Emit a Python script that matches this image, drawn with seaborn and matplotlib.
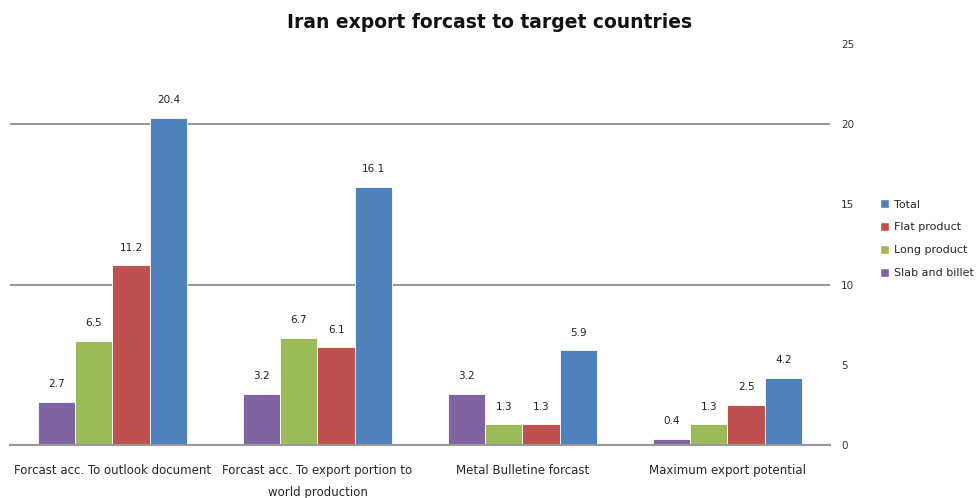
import matplotlib
matplotlib.use("Agg")
import matplotlib.pyplot as plt
import seaborn as sns
import pandas as pd
from matplotlib.patches import Patch

categories = ["Forcast acc. To outlook document",
              "Forcast acc. To export portion to\nworld production",
              "Metal Bulletine forcast",
              "Maximum export potential"]
series = ["Slab and billet", "Long product", "Flat product", "Total"]
slab = [2.7, 3.2, 3.2, 0.4]
long_p = [6.5, 6.7, 1.3, 1.3]
flat = [11.2, 6.1, 1.3, 2.5]
total = [20.4, 16.1, 5.9, 4.2]
yticks = [0, 5, 10, 15, 20, 25]

colors = {"Slab and billet": "#8064A2", "Long product": "#9BBB59",
          "Flat product": "#C0504D", "Total": "#4F81BD"}

rows = []
for s, vals in zip(series, [slab, long_p, flat, total]):
    for c, v in zip(categories, vals):
        rows.append({"cat": c, "series": s, "value": v})
df = pd.DataFrame(rows)

sns.set_style("white")
plt.rcParams['font.family'] = ['DejaVu Sans']
fig = plt.figure(figsize=(9.79, 4.98), dpi=100)
ax = fig.add_axes([10/979, (498-445)/498, 820/979, 401/498])

sns.barplot(data=df, x="cat", y="value", hue="series", hue_order=series,
            order=categories, palette=colors, width=0.73, ax=ax,
            edgecolor="#ffffff", linewidth=0.6, legend=False, saturation=1)

for cont in ax.containers:
    ax.bar_label(cont, fmt="%.1f", padding=9, fontsize=7.5, color="#222222")

ax.set_ylim(0, 25)
ax.set_xlim(-0.5, 3.5)
ax.yaxis.tick_right()
ax.set_yticks(yticks)
ax.set_yticklabels([str(t) for t in yticks], fontsize=7.5, color="#333333")
ax.tick_params(axis='y', length=0, pad=8)
ax.tick_params(axis='x', length=0, pad=14, labelsize=8.5)
for lab in ax.get_xticklabels():
    lab.set_linespacing(1.9)
for y in [10, 20]:
    ax.axhline(y, color="#999999", lw=1.5, zorder=0)
ax.set_xlabel("")
ax.set_ylabel("")
for s in ["top", "left", "right"]:
    ax.spines[s].set_visible(False)
ax.spines["bottom"].set_color("#999999")
ax.spines["bottom"].set_linewidth(1.5)

handles = [Patch(facecolor=colors[s], label=s) for s in reversed(series)]
fig.legend(handles=handles, loc="upper left", bbox_to_anchor=(876/979, 1-195/498),
           frameon=False, fontsize=8, handlelength=0.8, handleheight=0.8,
           labelspacing=1.15, handletextpad=0.4, borderaxespad=0)

fig.text(0.5, 1-22/498, "Iran export forcast to target countries", ha="center",
         va="center", fontsize=13.5, fontweight="bold", color="#111111")

fig.savefig("out.png", dpi=100)
